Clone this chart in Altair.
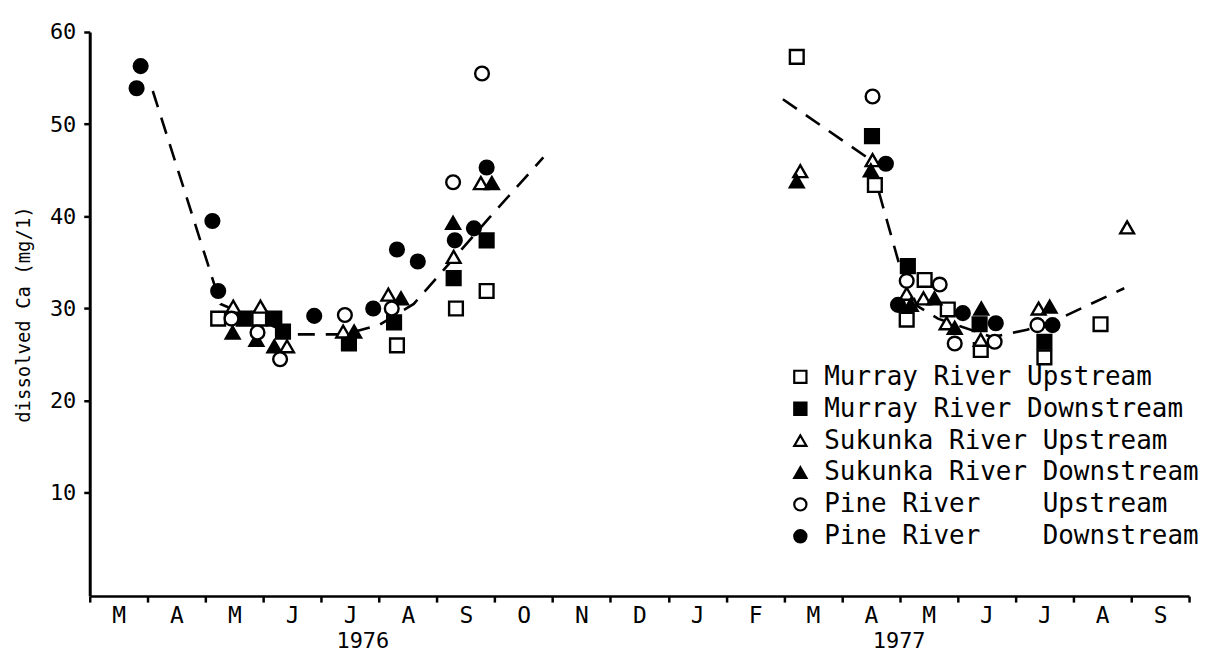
import altair as alt
import pandas as pd

# ---- series (x = months since 1 March 1976, y = dissolved Ca mg/l) ----
series_names = [
    "Murray River Upstream",
    "Murray River Downstream",
    "Sukunka River Upstream",
    "Sukunka River Downstream",
    "Pine River\u00a0\u00a0\u00a0\u00a0Upstream",
    "Pine River\u00a0\u00a0\u00a0\u00a0Downstream",
]
series_shapes = ["square", "square", "triangle-up", "triangle-up", "circle", "circle"]
series_fills = ["white", "black", "white", "black", "white", "black"]
series_strokes = ["black"] * 6

murray_up_x = [2.22, 2.93, 5.31, 6.33, 6.86, 12.22, 13.57, 14.12, 14.43, 14.83, 15.40, 16.50, 17.47]
murray_up_y = [28.9, 28.9, 26.0, 30.0, 31.9, 57.3, 43.4, 28.8, 33.1, 29.9, 25.5, 24.7, 28.3]

murray_down_x = [2.66, 3.19, 3.34, 4.48, 5.26, 6.29, 6.86, 13.52, 14.14, 15.38, 16.50]
murray_down_y = [28.9, 28.9, 27.5, 26.2, 28.5, 33.3, 37.4, 48.7, 34.6, 28.3, 26.4]

sukunka_up_x = [2.48, 2.95, 3.41, 4.38, 5.16, 6.29, 6.76, 12.28, 13.53, 14.12, 14.41, 14.81, 15.40, 16.40, 17.93]
sukunka_up_y = [30.2, 30.2, 25.9, 27.5, 31.5, 35.6, 43.6, 44.9, 46.1, 31.6, 31.1, 28.4, 26.6, 30.0, 38.8]

sukunka_down_x = [2.47, 2.88, 3.19, 4.57, 5.38, 6.28, 6.95, 12.22, 13.50, 14.19, 14.60, 14.95, 15.41, 16.59]
sukunka_down_y = [27.4, 26.6, 25.9, 27.5, 31.1, 39.3, 43.6, 43.8, 45.0, 30.4, 31.1, 27.9, 30.0, 30.2]

pine_up_x = [2.45, 2.90, 3.29, 4.41, 5.22, 6.28, 6.78, 13.53, 14.12, 14.69, 14.95, 15.64, 16.38]
pine_up_y = [28.9, 27.4, 24.5, 29.3, 30.0, 43.7, 55.5, 53.0, 33.0, 32.6, 26.2, 26.4, 28.2]

pine_down_x = [0.88, 0.81, 2.12, 2.22, 3.88, 4.90, 5.31, 5.67, 6.31, 6.64, 6.86, 13.76, 13.97, 15.09, 15.66, 16.64]
pine_down_y = [56.3, 53.9, 39.5, 31.9, 29.2, 30.0, 36.4, 35.1, 37.4, 38.7, 45.3, 45.7, 30.4, 29.5, 28.4, 28.2]

# ---- hand-drawn dashed trend curves ----
trend_1976_x = [1.09, 2.26, 3.5, 4.4, 5.0, 5.6, 6.9, 7.84]
trend_1976_y = [53.6, 30.5, 27.2, 27.2, 28.2, 30.5, 39.8, 46.4]
trend_1977_x = [11.98, 13.48, 14.0, 14.3, 14.66, 15.6, 16.2, 16.76, 17.88]
trend_1977_y = [52.7, 46.2, 34.6, 30.3, 28.9, 26.9, 27.7, 28.9, 32.2]

month_labels = ["M", "A", "M", "J", "J", "A", "S", "O", "N", "D",
                "J", "F", "M", "A", "M", "J", "J", "A", "S", ""]
year_labels = ["1976", "1977"]
year_pos = [4.72, 13.99]
y_ticks = [10, 20, 30, 40, 50, 60]

# ---- build tables ----
all_x = [murray_up_x, murray_down_x, sukunka_up_x, sukunka_down_x, pine_up_x, pine_down_x]
all_y = [murray_up_y, murray_down_y, sukunka_up_y, sukunka_down_y, pine_up_y, pine_down_y]
rows = []
for name, xs, ys in zip(series_names, all_x, all_y):
    for xv, yv in zip(xs, ys):
        rows.append({"series": name, "month": xv, "ca": yv})
points_df = pd.DataFrame(rows)

trend_rows = []
for seg, xs, ys in [("1976", trend_1976_x, trend_1976_y), ("1977", trend_1977_x, trend_1977_y)]:
    for i, (xv, yv) in enumerate(zip(xs, ys)):
        trend_rows.append({"seg": seg, "month": xv, "ca": yv, "i": i})
trend_df = pd.DataFrame(trend_rows)

years_df = pd.DataFrame({"label": year_labels, "month": year_pos})

W, H = 1103, 566
FONT = "DejaVu Sans Mono"

label_expr = "[" + ",".join("'" + m + "'" for m in month_labels) + "][datum.value]"

x_scale = alt.Scale(domain=[0, 19], nice=False, zero=False)
y_scale = alt.Scale(domain=[-1.2, 60], nice=False, zero=False)

x_axis = alt.Axis(
    values=list(range(0, 20)),
    labelExpr=label_expr,
    labelOffset=29,
    labelFont=FONT,
    labelFontSize=23,
    labelColor="black",
    labelPadding=2,
    labelOverlap=False,
    labelBound=False,
    labelFlush=False,
    tickSize=6,
    tickWidth=2.5,
    tickColor="black",
    domainColor="black",
    domainWidth=2.5,
    grid=False,
    title="",
)
y_axis = alt.Axis(
    values=y_ticks,
    labelFont=FONT,
    labelFontSize=22,
    labelColor="black",
    labelPadding=8,
    tickSize=6,
    tickWidth=2.5,
    tickColor="black",
    domainColor="black",
    domainWidth=3,
    grid=False,
    title="dissolved Ca (mg/1)",
    titleFont=FONT,
    titleFontSize=19,
    titleFontWeight="normal",
    titleColor="black",
    titlePadding=16,
)

trend = alt.Chart(trend_df).mark_line(
    color="black", strokeWidth=2.6, strokeDash=[17, 11]
).encode(
    x=alt.X("month:Q", scale=x_scale, axis=x_axis),
    y=alt.Y("ca:Q", scale=y_scale, axis=y_axis),
    detail="seg:N",
    order="i:Q",
)

points = alt.Chart(points_df).mark_point(
    size=190, strokeWidth=2.4, opacity=1, fillOpacity=1, strokeOpacity=1
).encode(
    x=alt.X("month:Q", scale=x_scale),
    y=alt.Y("ca:Q", scale=y_scale),
    shape=alt.Shape("series:N", scale=alt.Scale(domain=series_names, range=series_shapes),
                    legend=alt.Legend(title=None)),
    fill=alt.Fill("series:N", scale=alt.Scale(domain=series_names, range=series_fills),
                  legend=alt.Legend(title=None)),
    stroke=alt.Stroke("series:N", scale=alt.Scale(domain=series_names, range=series_strokes),
                      legend=alt.Legend(title=None)),
)

years = alt.Chart(years_df).mark_text(
    font=FONT, fontSize=22, color="black", baseline="middle", align="center"
).encode(
    x=alt.X("month:Q", scale=x_scale),
    y=alt.value(H + 45),
    text="label:N",
)

chart = alt.layer(trend, points, years).properties(
    width=W,
    height=H,
    autosize=alt.AutoSizeParams(type="none"),
    padding={"left": 82, "top": 23, "right": 15, "bottom": 56},
).configure_view(
    stroke=None
).configure_legend(
    orient="none",
    legendX=700,
    legendY=333,
    labelFont=FONT,
    labelFontSize=26,
    labelColor="black",
    labelLimit=0,
    labelOffset=11,
    symbolSize=150,
    symbolStrokeWidth=2.2,
    rowPadding=6,
    padding=0,
)

chart.save("out.html", embed_options={"renderer": "svg", "actions": False})
